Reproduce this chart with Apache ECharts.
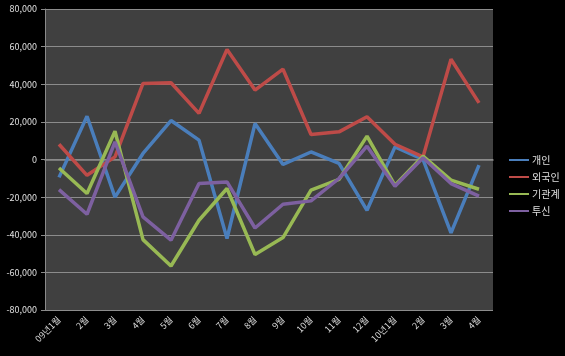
<!DOCTYPE html>
<html><head><meta charset="utf-8">
<script src="https://cdn.jsdelivr.net/npm/echarts@6/dist/echarts.min.js"></script>
<style>html,body{margin:0;padding:0;background:#000;}#c{width:565px;height:356px;}</style>
</head><body><div id="c"></div>
<script>
const categories = ['09년1월','2월','3월','4월','5월','6월','7월','8월','9월','10월','11월','12월','10년1월','2월','3월','4월'];
const individual = [-9500, 23000, -20000, 3200, 20700, 10300, -42000, 19100, -2600, 4000, -2100, -27000, 6700, 0, -39000, -3000];
const foreign = [8100, -8400, 1400, 40400, 40800, 24500, 58500, 36900, 48000, 13300, 14700, 22700, 8100, 1400, 53300, 30100];
const institution = [-4500, -18100, 15000, -42600, -56600, -32300, -15400, -50500, -41500, -16300, -10600, 12400, -13700, 1800, -11000, -15800];
const trust = [-16000, -29100, 9400, -30500, -42900, -12800, -11900, -36400, -23800, -22000, -10100, 7100, -14200, 900, -12800, -19500];
const seriesNames = ['개인','외국인','기관계','투신'];
const colors = ['#4a7ebb','#be4b48','#98b954','#7d60a0'];
const yTicks = {min:-80000, max:80000, interval:20000};

const chart = echarts.init(document.getElementById('c'));
const font = '"Noto Sans CJK KR", "Noto Sans", sans-serif';
const mk = (name, data, i) => ({
  name, type:'line', data, symbol:'none', smooth:false,
  lineStyle:{width:3.5, color:colors[i]}, itemStyle:{color:colors[i]}
});
chart.setOption({
  backgroundColor:'#000',
  animation:false,
  grid:{left:45, right:72, top:9, bottom:46, show:true, backgroundColor:'#404040', borderWidth:0},
  legend:{
    orient:'vertical', left:504, top:150, itemWidth:20, itemHeight:2, itemGap:7, icon:'rect',
    textStyle:{color:'#e0e0e0', fontSize:10, fontFamily:font, padding:[0,0,0,-2]},
    data:seriesNames
  },
  xAxis:{
    type:'category', data:categories, boundaryGap:true,
    axisLine:{lineStyle:{color:'#8a8a8a', width:1.5}},
    axisTick:{show:false},
    axisLabel:{interval:0, rotate:45, color:'#d8d8d8', fontSize:9, fontFamily:font, margin:8}
  },
  yAxis:{
    type:'value', min:yTicks.min, max:yTicks.max, interval:yTicks.interval,
    axisLine:{show:true, lineStyle:{color:'#8a8a8a'}},
    axisTick:{show:true, length:4, lineStyle:{color:'#8a8a8a'}},
    splitLine:{lineStyle:{color:'#8c8c8c', width:1}},
    axisLabel:{color:'#e0e0e0', fontSize:9, fontFamily:font, margin:8,
      formatter:v => v.toLocaleString('en-US')}
  },
  series:[mk(seriesNames[0], individual,0), mk(seriesNames[1], foreign,1), mk(seriesNames[2], institution,2), mk(seriesNames[3], trust,3)]
});
</script></body></html>
